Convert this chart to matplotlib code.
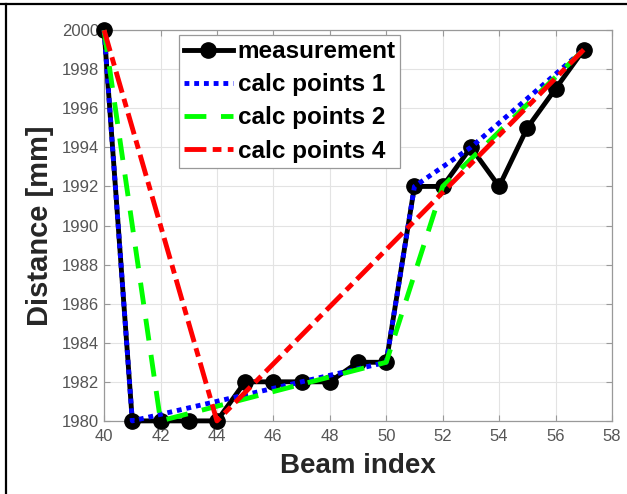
import matplotlib
matplotlib.use("Agg")
import matplotlib.pyplot as plt
from matplotlib.lines import Line2D

plt.rcParams['font.family'] = ['Liberation Sans', 'DejaVu Sans']

# measured distance per beam
beam = [40, 41, 42, 43, 44, 45, 46, 47, 48, 49, 50, 51, 52, 53, 54, 55, 56, 57]
dist = [2000, 1980, 1980, 1980, 1980, 1982, 1982, 1982, 1982, 1983, 1983,
        1992, 1992, 1994, 1992, 1995, 1997, 1999]

# calculated support points
calc1_x = [40, 41, 50, 51, 53, 57]
calc1_y = [2000, 1980, 1983, 1992, 1994, 1999]
calc2_x = [40, 42, 50, 52, 57]
calc2_y = [2000, 1980, 1983, 1992, 1999]
calc4_x = [40, 44, 57]
calc4_y = [2000, 1980, 1999]

fig = plt.figure(figsize=(6.27, 4.94), dpi=100)
ax = fig.add_axes([0.166, 0.148, 0.81, 0.791])

lw = 3.5
ax.plot(beam, dist, '-o', color='k', lw=lw, ms=11, clip_on=False,
        label='measurement', zorder=3)
ax.plot(calc1_x, calc1_y, color='#0000ff', lw=lw, dashes=(1, 1),
        dash_capstyle='butt', clip_on=False, label='calc points 1', zorder=4)
ax.plot(calc2_x, calc2_y, color='#00ff00', lw=lw, dashes=(4.5, 3),
        dash_capstyle='butt', clip_on=False, label='calc points 2', zorder=5)
ax.plot(calc4_x, calc4_y, color='#ff0000', lw=lw, dashes=(4.5, 1.3, 1.8, 1.3),
        dash_capstyle='butt', clip_on=False, label='calc points 4', zorder=6)

ax.set_xlim(40, 58)
ax.set_ylim(1980, 2000)
ax.set_xticks(range(40, 59, 2))
ax.set_yticks(range(1980, 2001, 2))
ax.grid(True, color='#e3e3e3', lw=0.8)
ax.set_axisbelow(True)
for s in ax.spines.values():
    s.set_color('#999999')
    s.set_linewidth(0.9)
ax.tick_params(direction='in', top=True, right=True, length=4,
               color='#999999', labelcolor='#555555', labelsize=12)
ax.tick_params(axis='x', pad=6)

ax.set_xlabel('Beam index', fontsize=20, fontweight='bold', color='#262626',
              labelpad=6)
ax.set_ylabel('Distance [mm]', fontsize=21, fontweight='bold', color='#262626',
              labelpad=6)

leg = ax.legend(loc='upper left', bbox_to_anchor=(0.148, 0.987),
                borderaxespad=0, prop={'weight': 'bold', 'size': 17.5},
                handlelength=2.0, handletextpad=0.2, labelspacing=0.42,
                borderpad=0.2, fancybox=False, framealpha=1,
                edgecolor='#999999')
leg.get_frame().set_linewidth(0.9)
leg.set_zorder(10)

# frame around the figure (top and left edges)
fig.add_artist(Line2D([0, 1], [1 - 4.5 / 494, 1 - 4.5 / 494],
                      transform=fig.transFigure, color='k', lw=1.6))
fig.add_artist(Line2D([6 / 627, 6 / 627], [0, 1 - 4.5 / 494],
                      transform=fig.transFigure, color='k', lw=1.6))

fig.savefig('out.png', dpi=100)
